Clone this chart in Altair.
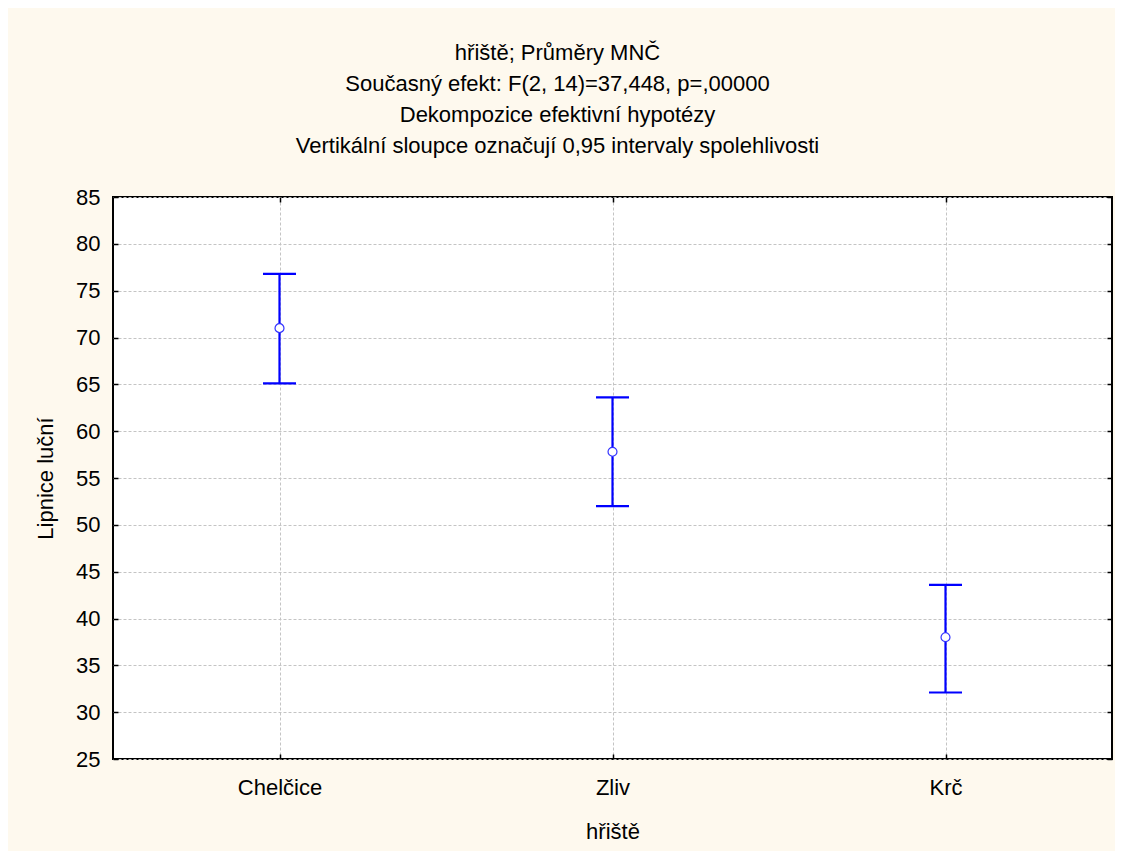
import altair as alt
import pandas as pd

# ---- data ----
sites = ["Chelčice", "Zliv", "Krč"]
means = [71.0, 57.8, 38.0]
lower = [65.1, 52.0, 32.1]
upper = [76.8, 63.6, 43.6]
y_ticks = [25, 30, 35, 40, 45, 50, 55, 60, 65, 70, 75, 80, 85]

title_lines = [
    "hřiště; Průměry MNČ",
    "Současný efekt: F(2, 14)=37,448, p=,00000",
    "Dekompozice efektivní hypotézy",
    "Vertikální sloupce označují 0,95 intervaly spolehlivosti",
]
x_title = "hřiště"
y_title = "Lipnice luční"

df = pd.DataFrame({"site": sites, "mean": means, "lo": lower, "hi": upper})

FONT = "Liberation Sans"
FS = 22
W, H = 999, 562
BLUE = "#0000FF"

xscale = alt.Scale(domain=sites, type="point", padding=0.5)
yscale = alt.Scale(domain=[25, 85], nice=False, zero=False)

grid_kw = dict(grid=True, gridColor="#c4c4c4", gridDash=[3, 2], gridWidth=1)

x_main = alt.Axis(orient="bottom", title=x_title, ticks=False, tickSize=0, domain=False,
                  labelFont=FONT, labelFontSize=FS, labelColor="black", labelPadding=18,
                  labelAngle=0, titleFont=FONT, titleFontSize=FS, titleFontWeight="normal",
                  titleColor="black", titlePadding=23, **grid_kw)
x_in_bottom = alt.Axis(orient="top", offset=-H, title=None, labels=False, domain=False,
                       grid=False, ticks=True, tickSize=5, tickWidth=1.5, tickColor="black")
x_in_top = alt.Axis(orient="bottom", offset=-H, title=None, labels=False, domain=False,
                    grid=False, ticks=True, tickSize=5, tickWidth=1.5, tickColor="black")

y_main = alt.Axis(orient="left", title=y_title, values=y_ticks, ticks=False, tickSize=0,
                  domain=False, labelFont=FONT, labelFontSize=FS, labelColor="black",
                  labelPadding=13, titleFont=FONT, titleFontSize=FS, titleFontWeight="normal",
                  titleColor="black", titlePadding=18, **grid_kw)
y_in_left = alt.Axis(orient="right", offset=-W, title=None, values=y_ticks, labels=False,
                     domain=False, grid=False, ticks=True, tickSize=5, tickWidth=1.5,
                     tickColor="black")
y_in_right = alt.Axis(orient="left", offset=-W, title=None, values=y_ticks, labels=False,
                      domain=False, grid=False, ticks=True, tickSize=5, tickWidth=1.5,
                      tickColor="black")

base = alt.Chart(df)

whisker = base.mark_rule(color=BLUE, strokeWidth=2.2).encode(
    x=alt.X("site:N", scale=xscale, axis=x_main, sort=sites),
    y=alt.Y("lo:Q", scale=yscale, axis=y_main),
    y2="hi:Q",
)
cap_lo = base.mark_tick(color=BLUE, orient="horizontal", size=33, thickness=2.2, opacity=1).encode(
    x=alt.X("site:N", scale=xscale, axis=x_in_bottom, sort=sites),
    y=alt.Y("lo:Q", scale=yscale, axis=y_in_left),
)
cap_hi = base.mark_tick(color=BLUE, orient="horizontal", size=33, thickness=2.2, opacity=1).encode(
    x=alt.X("site:N", scale=xscale, axis=x_in_top, sort=sites),
    y=alt.Y("hi:Q", scale=yscale, axis=y_in_right),
)
pts = base.mark_point(shape="circle", filled=True, fill="white", stroke="#3333ff",
                      strokeWidth=1.2, size=80, opacity=1).encode(
    x=alt.X("site:N", scale=xscale, axis=None, sort=sites),
    y=alt.Y("mean:Q", scale=yscale, axis=None),
)

chart = (
    alt.layer(whisker, cap_lo, cap_hi, pts)
    .resolve_axis(x="independent", y="independent")
    .properties(
        width=W,
        height=H,
        title=alt.TitleParams(text=title_lines, font=FONT, fontSize=FS, fontWeight="normal",
                              color="black", lineHeight=31, anchor="middle", dx=-55,
                              offset=28),
        autosize=alt.AutoSizeParams(type="none"),
        padding={"left": 105, "top": 189, "right": 3, "bottom": 92},
        background="#FEF9EE",
    )
    .configure_view(stroke="black", strokeWidth=2, fill="white")
)

chart.save("out.html", embed_options={"renderer": "svg", "actions": False})
